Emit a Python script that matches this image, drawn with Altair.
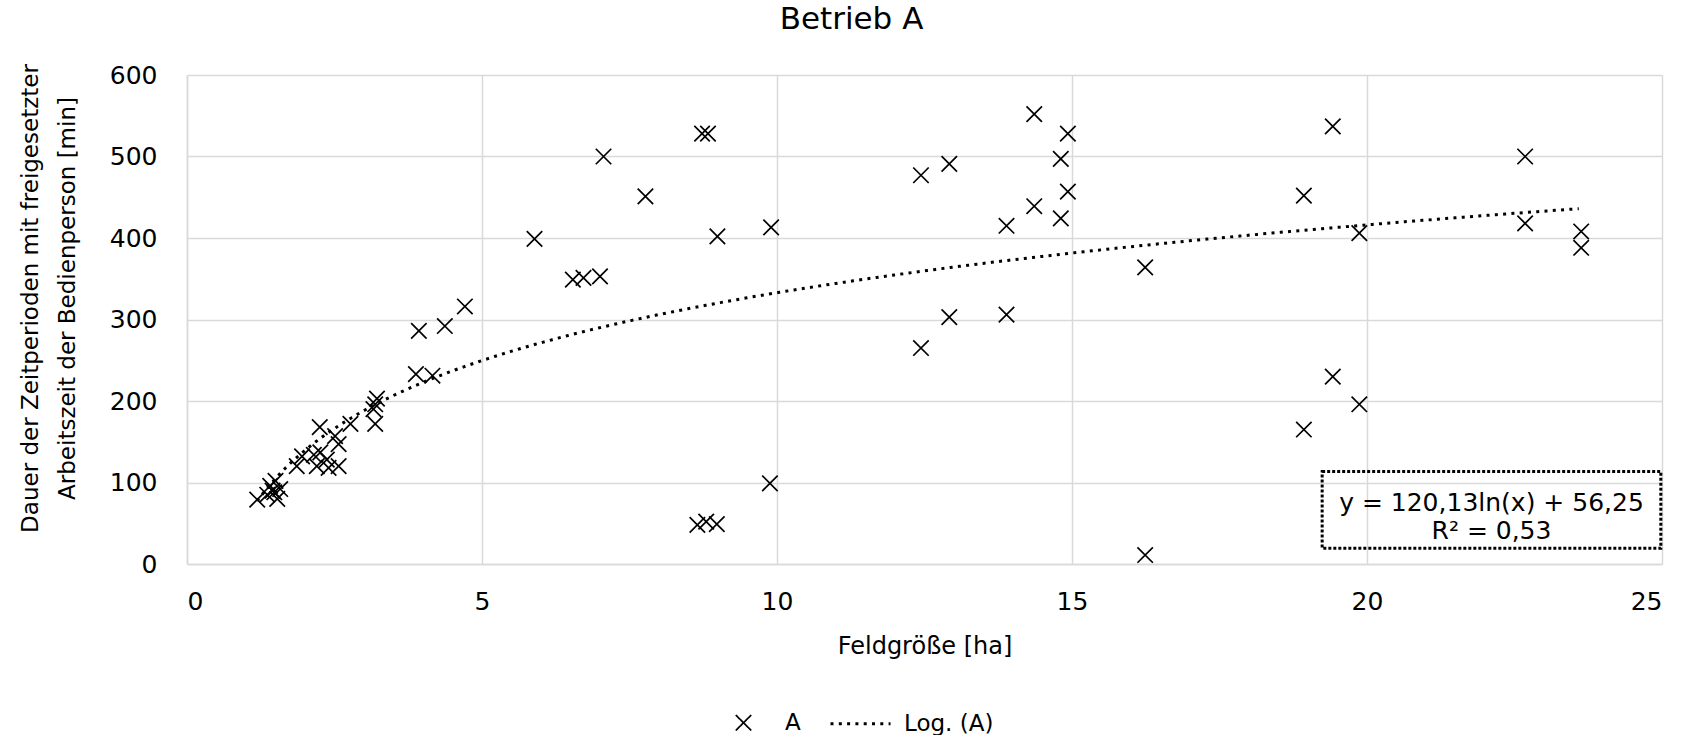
import altair as alt
import pandas as pd

# Field size [ha] and duration of released operator time [min], operation A
feldgroesse = [
    1.19, 1.36, 1.41, 1.45, 1.50, 1.53, 1.58, 1.48,
    1.86, 1.95, 2.15, 2.20, 2.25, 2.26, 2.37, 2.40, 2.51, 2.57, 2.57, 2.77,
    3.16, 3.19, 3.22, 3.19, 3.88, 4.16, 3.93, 4.37, 4.71,
    5.89, 6.54, 6.72, 7.00, 7.06, 7.77, 8.73, 8.83, 8.99, 9.90,
    8.65, 8.80, 8.98, 9.88,
    12.44, 12.44, 12.92, 12.92, 13.89, 13.89, 14.36, 14.36, 14.81, 14.81,
    14.93, 14.93, 16.24, 16.24, 18.93, 18.93, 19.42, 19.42, 19.87, 19.87,
    22.68, 22.68, 23.63, 23.63,
]
dauer = [
    79, 85, 96, 90, 102, 80, 92, 88,
    120, 132, 134, 120, 168, 137, 128, 118, 157, 147, 120, 172,
    190, 196, 203, 172, 233, 231, 286, 292, 316,
    399, 349, 351, 353, 500, 451, 528, 528, 402, 413,
    48, 52, 49, 99,
    477, 265, 491, 303, 415, 306, 552, 439, 497, 424,
    528, 457, 364, 11, 452, 165, 537, 230, 406, 196,
    500, 418, 408, 388,
]

# Logarithmic trend: y = a * ln(x) + b
trend_a = 120.13
trend_b = 56.25
trend_r2 = 0.53

series_names = ["A", "Log. (A)"]

FONT = "DejaVu Sans"
TXT = "#000000"
GRID = "#d9d9d9"


def de(v):
    return f"{v:.2f}".replace(".", ",")


equation_lines = [
    f"y = {de(trend_a)}ln(x) + {de(trend_b)}",
    f"R² = {de(trend_r2)}",
]

points = pd.DataFrame({"x": feldgroesse, "y": dauer, "series": series_names[0]})

legend = alt.Legend(
    title=None,
    orient="none",
    direction="horizontal",
    legendX=527,
    legendY=617,
    padding=0,
    labelFont=FONT,
    labelFontSize=23,
    labelColor=TXT,
    labelOffset=12,
    columnPadding=23,
)

# "x" marker drawn inside a wider symbol box so the legend label sits further right
cross_path = "M-0.27,-0.27L0.27,0.27M-0.27,0.27L0.27,-0.27"

color = alt.Color("series:N", scale=alt.Scale(domain=series_names, range=["black", "black"]), legend=legend)
shape = alt.Shape("series:N", scale=alt.Scale(domain=series_names, range=[cross_path, "stroke"]), legend=legend)
size = alt.Size("series:N", scale=alt.Scale(domain=series_names, range=[3280, 3600]), legend=legend)
dash = alt.StrokeDash("series:N", scale=alt.Scale(domain=series_names, range=[[1, 0], [3, 5.3]]), legend=legend)
swidth = alt.StrokeWidth("series:N", scale=alt.Scale(domain=series_names, range=[1.7, 3]), legend=legend)

x_enc = alt.X(
    "x:Q",
    scale=alt.Scale(domain=[0, 25], nice=False),
    axis=alt.Axis(
        title="Feldgröße [ha]",
        values=[0, 5, 10, 15, 20, 25],
        format="d",
        labelPadding=25,
        titleY=89,
        titleBaseline="alphabetic",
        titleFontSize=24,
    ),
)
y_enc = alt.Y(
    "y:Q",
    scale=alt.Scale(domain=[0, 600], nice=False),
    axis=alt.Axis(
        title=["Dauer der Zeitperioden mit freigesetzter", "Arbeitszeit der Bedienperson [min]"],
        values=[0, 100, 200, 300, 400, 500, 600],
        format="d",
        labelPadding=30,
        titleX=-145,
        titleY=223,
        titleLineHeight=37.5,
        titleFontSize=23,
    ),
)

scatter = alt.Chart(points).mark_point(filled=False, opacity=1).encode(
    x=x_enc, y=y_enc, color=color, shape=shape, size=size, strokeWidth=swidth
)

trend = (
    alt.Chart(alt.sequence(min(feldgroesse), max(feldgroesse) + 0.01, 0.05, as_="x"))
    .transform_calculate(y=f"{trend_a} * log(datum.x) + {trend_b}", series=f"'{series_names[1]}'")
    .mark_line()
    .encode(x="x:Q", y="y:Q", color=color, strokeDash=dash, strokeWidth=swidth)
)

# Equation label with dotted frame, placed in data units
box = pd.DataFrame({"x": [19.24], "x2": [24.98], "y": [19.2], "y2": [113.5]})
frame = alt.Chart(box).mark_rect(fillOpacity=0, stroke="black", strokeWidth=3, strokeDash=[3, 2]).encode(
    x="x:Q", x2="x2:Q", y="y:Q", y2="y2:Q"
)
label = alt.Chart(pd.DataFrame({"x": [22.11], "y": [75], "t": [equation_lines]})).mark_text(
    font=FONT, fontSize=25, color=TXT, lineHeight=28, align="center", baseline="middle"
).encode(x="x:Q", y="y:Q", text="t")

chart = (
    alt.layer(scatter, trend, frame, label)
    .properties(
        width=1475,
        height=489,
        background="white",
        autosize=alt.AutoSizeParams(type="none"),
        padding={"left": 187, "top": 75, "right": 28, "bottom": 171},
        title=alt.TitleParams(
            "Betrieb A", font=FONT, fontSize=31, fontWeight="normal", color=TXT, dx=-73, offset=27, anchor="middle"
        ),
    )
    .configure_view(strokeWidth=0)
    .configure_axis(
        labelFont=FONT,
        labelFontSize=25,
        labelColor=TXT,
        titleFont=FONT,
        titleFontWeight="normal",
        titleColor=TXT,
        ticks=False,
        domainColor=GRID,
        domainWidth=1.5,
        gridColor=GRID,
        gridWidth=1.5,
    )
)

chart.save("out.html", embed_options={"renderer": "svg", "actions": False})
